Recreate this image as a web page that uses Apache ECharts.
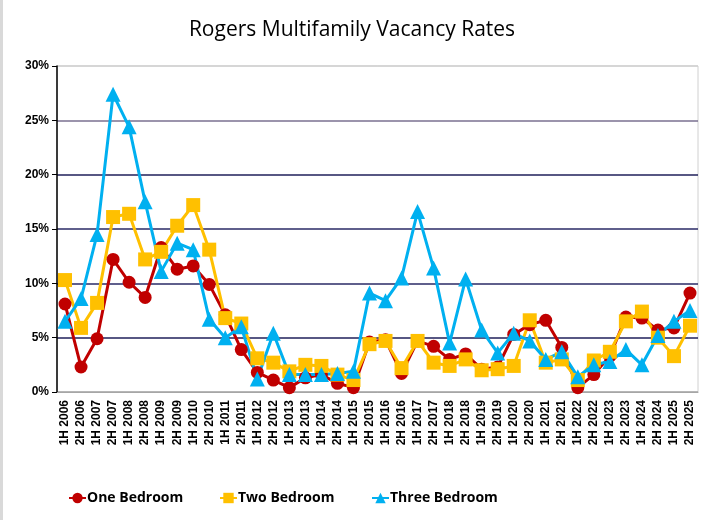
<!DOCTYPE html>
<html><head><meta charset="utf-8">
<script src="https://cdn.jsdelivr.net/npm/echarts@6/dist/echarts.min.js"></script>
<style>html,body{margin:0;padding:0;background:#fff}#c{width:704px;height:520px}</style>
</head><body><div id="c"></div>
<script>
var categories = ["1H 2006","2H 2006","1H 2007","2H 2007","1H 2008","2H 2008","1H 2009","2H 2009","1H 2010","2H 2010",
"1H 2011","2H 2011","1H 2012","2H 2012","1H 2013","2H 2013","1H 2014","2H 2014","1H 2015","2H 2015",
"1H 2016","2H 2016","1H 2017","2H 2017","1H 2018","2H 2018","1H 2019","2H 2019","1H 2020","2H 2020",
"1H 2021","2H 2021","1H 2022","2H 2022","1H 2023","2H 2023","1H 2024","2H 2024","1H 2025","2H 2025"];
var oneBedroom = [8.1,2.3,4.9,12.2,10.1,8.7,13.3,11.3,11.6,9.9,
7.1,3.9,1.8,1.1,0.4,1.3,1.6,0.8,0.4,4.6,
4.8,1.7,4.7,4.2,3.0,3.5,2.1,2.3,5.3,6.2,
6.6,4.1,0.4,1.6,3.3,6.9,6.8,5.7,5.9,9.1];
var twoBedroom = [10.3,5.9,8.2,16.1,16.4,12.2,12.9,15.3,17.2,13.1,
6.8,6.3,3.1,2.7,1.9,2.5,2.4,1.6,1.1,4.4,
4.7,2.2,4.7,2.7,2.4,3.0,2.0,2.1,2.4,6.6,
2.7,3.0,1.1,2.9,3.7,6.5,7.4,5.0,3.3,6.1];
var threeBedroom = [6.5,8.6,14.5,27.4,24.4,17.5,11.1,13.7,13.1,6.7,
5.0,6.0,1.2,5.4,1.6,1.6,1.6,1.7,1.9,9.1,
8.4,10.5,16.6,11.4,4.5,10.4,5.7,3.6,5.4,4.7,
3.0,3.7,1.4,2.5,2.8,3.9,2.5,5.2,6.5,7.5];
var seriesNames = ["One Bedroom","Two Bedroom","Three Bedroom"];

var chart = echarts.init(document.getElementById('c'), null, {renderer:'canvas'});
var font = 'Arial, "Liberation Sans", sans-serif';
function s(name, data, color, symbol, size) {
  return {name:name, type:'line', data:data, symbol:symbol, symbolSize:size,
    lineStyle:{color:color, width:3}, itemStyle:{color:color}, z: 2};
}
function lg(name, left) {
  return {top:486, left:left, itemWidth:17, itemHeight:13, data:[name],
    textStyle:{fontFamily:'"Open Sans", "Liberation Sans", sans-serif', fontSize:14, fontWeight:'bold', color:'#000', padding:[0,0,0,-4]}};
}
chart.setOption({
  animation:false,
  backgroundColor:'#fff',
  title:{text:'Rogers Multifamily Vacancy Rates', left:'center', top:15,
    textStyle:{fontFamily:'"Open Sans", "Liberation Sans", sans-serif', fontSize:21, fontWeight:'normal', color:'#000'}},
  graphic:[{type:'rect', shape:{x:0,y:0,width:3,height:520}, style:{fill:'#d9d9d9'}}],
  legend:[lg(seriesNames[0], 63), lg(seriesNames[1], 214), lg(seriesNames[2], 366)],
  grid:{left:57, right:6, top:66, bottom:128, show:true, borderColor:'#d0d0d0', borderWidth:1},
  xAxis:{type:'category', data:categories, boundaryGap:true,
    axisLine:{lineStyle:{color:'#a6a6a6', width:1}},
    axisTick:{show:false},
    axisLabel:{rotate:90, interval:0, fontFamily:font, fontSize:12, fontWeight:'bold', color:'#000', margin:8}},
  yAxis:{type:'value', min:0, max:30, interval:5,
    axisLine:{show:true, lineStyle:{color:'#000', width:1.5}},
    axisTick:{show:true, length:5, lineStyle:{color:'#000'}},
    axisLabel:{formatter:'{value}%', fontFamily:font, fontSize:12, fontWeight:'bold', color:'#000', margin:8},
    splitLine:{lineStyle:{color:['#a6a6a6','#1f1f5a','#2a2a66','#2a2a66','#1f1f5a','#7a7090','#d0d0d0'], width:1.5}}},
  series:[
    s(seriesNames[0], oneBedroom, '#C00000', 'circle', 13),
    s(seriesNames[1], twoBedroom, '#FFC000', 'rect', 14),
    s(seriesNames[2], threeBedroom, '#00B0F0', 'triangle', 15)
  ]
});
</script></body></html>
